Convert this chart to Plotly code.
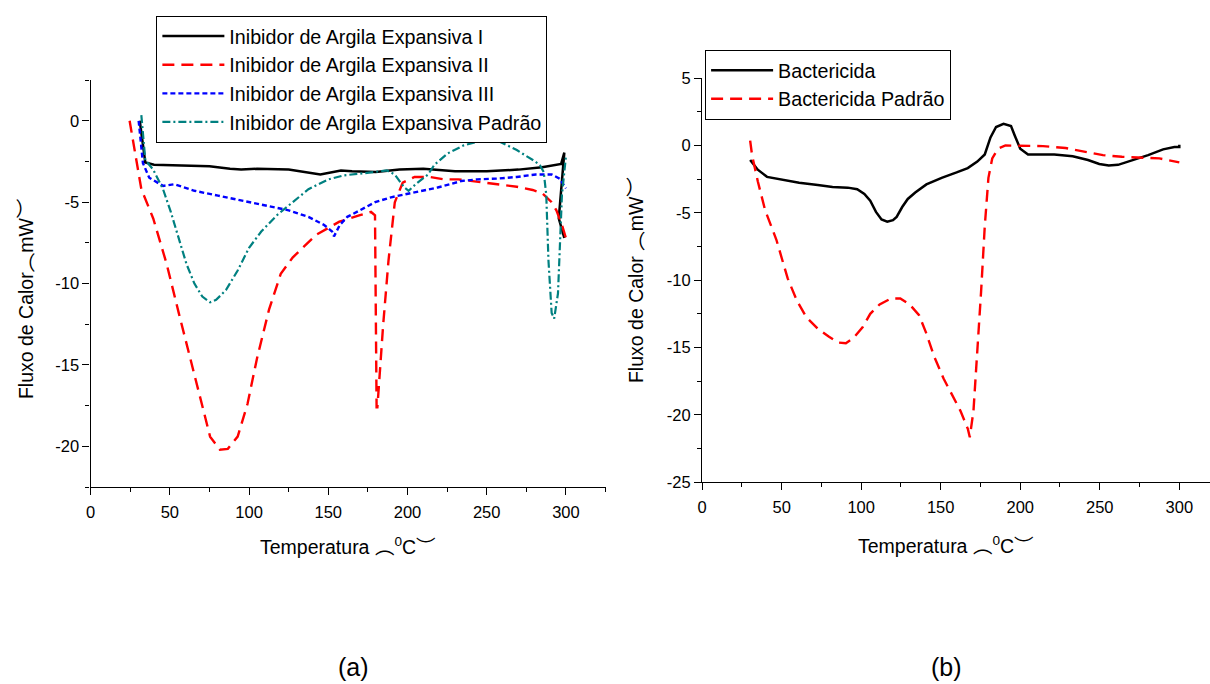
import plotly.graph_objects as go

# ---- (a) Inibidores de argila expansiva: temperatura (°C) x fluxo de calor (mW)
t_inib1 = [31, 34.5, 40, 55, 75, 88, 95, 105, 125, 145, 158, 165, 180, 195, 210, 230, 250, 270, 285, 297, 299, 295.5, 299]
f_inib1 = [0, -2.56, -2.7, -2.75, -2.8, -2.95, -3.0, -2.95, -3.0, -3.3, -3.05, -3.1, -3.15, -3.0, -2.95, -3.1, -3.1, -3.0, -2.85, -2.65, -1.95, -6.0, -7.2]

t_inib2 = [24.6, 32, 39.5, 48, 55.6, 63, 70.5, 75.4, 81.6, 86.6, 92.8, 99, 105, 112.6, 120, 127.5, 142.4, 157, 170, 177, 179.5, 179.8, 180.5, 181,
           184.6, 188, 192, 197, 204.5, 214, 223, 232, 244, 256.6, 269, 279, 285, 291, 294, 297.5, 300]
f_inib2 = [0, -4.2, -6.0, -8.8, -11.8, -14.6, -17.6, -19.4, -20.2, -20.15, -19.4, -17.4, -14.6, -11.6, -9.4, -8.4, -7.0, -6.2, -5.8, -5.6, -5.8, -12.0, -17.6, -17.6,
           -12.6, -8.6, -5.0, -3.8, -3.45, -3.45, -3.6, -3.6, -3.75, -3.9, -4.05, -4.25, -4.45, -5.0, -5.5, -6.4, -7.2]

t_inib3 = [30.3, 33, 37, 45.7, 53, 65.5, 80.4, 95.3, 110, 125, 137.5, 147.4, 152.4, 153.6, 157.3, 162, 170, 179.6, 189.6, 199.5, 209.4, 219,
           226.8, 234, 244, 256.6, 269, 281, 291, 296, 300]
f_inib3 = [0, -2.6, -3.5, -4.0, -3.9, -4.3, -4.6, -4.9, -5.2, -5.5, -5.9, -6.4, -6.8, -7.1, -6.4, -5.9, -5.5, -5.0, -4.7, -4.5, -4.3, -4.1,
           -3.9, -3.7, -3.6, -3.55, -3.45, -3.3, -3.3, -3.55, -4.15]

t_padrao = [32, 34.5, 39.5, 45.7, 50.6, 55.6, 60.5, 65.5, 70.5, 75.4, 79.2, 85.4, 92.8, 100, 107.7, 117.6, 127.5, 137.5, 150, 160, 170, 179.6,
            187, 192, 198, 200.7, 205.7, 213, 217, 225.5, 235.7, 248, 256.6, 269, 280.6, 283.8, 286, 287.6, 289, 291, 292.6, 295, 296.3, 297.5, 300]
f_padrao = [0.35, -2.4, -3.0, -4.2, -5.6, -7.2, -8.8, -10.0, -10.8, -11.15, -11.0, -10.4, -9.2, -7.8, -6.8, -5.8, -5.0, -4.2, -3.6, -3.35, -3.25, -3.15,
            -3.05, -3.3, -4.1, -4.3, -3.85, -3.3, -2.7, -2.0, -1.5, -1.2, -1.2, -1.8, -2.5, -2.76, -3.15, -4.55, -8.6, -11.8, -12.15, -10.6, -7.6, -4.55, -2.2]

# ---- (b) Bactericidas
t_bact = [30.2, 35, 40.8, 49, 61, 72.7, 82, 91.6, 97.5, 102, 105.7, 109.3, 112.8, 116.4, 120, 122.3, 125.8, 129.3, 134, 141, 150.6, 160, 167,
          173, 177.7, 181.3, 184.8, 189.5, 194.2, 196.6, 200, 204.9, 212, 221.4, 233, 242.6, 249.7, 255.6, 261.5, 271, 280.4, 289.8, 296.9, 300, 300]
f_bact = [-1.08, -1.8, -2.33, -2.53, -2.77, -2.94, -3.08, -3.13, -3.25, -3.6, -4.1, -4.93, -5.49, -5.66, -5.54, -5.3, -4.57, -3.97, -3.49, -2.89, -2.4, -2.0, -1.68,
          -1.2, -0.67, 0.6, 1.37, 1.61, 1.44, 0.72, -0.24, -0.67, -0.65, -0.67, -0.8, -1.08, -1.37, -1.49, -1.44, -1.08, -0.72, -0.29, -0.12, -0.12, 0.05]

t_bact_p = [30.2, 31.4, 35, 39.6, 46.7, 53.8, 59.7, 65.6, 72.7, 79.8, 85.7, 90.4, 95.1, 101, 105.7, 111.6, 118.7, 124.6, 130.5, 136.4, 141, 145.8,
            151.8, 157.7, 162.4, 167.1, 168.3, 170.6, 173, 175.4, 177.7, 180, 182.4, 186, 190.7, 200, 214.3, 228.5, 240.3, 252, 263.9, 275.7, 287.5, 300]
f_bact_p = [0.36, -0.72, -2.65, -4.8, -7.0, -9.87, -11.55, -12.76, -13.6, -14.2, -14.63, -14.68, -14.3, -13.48, -12.5, -11.8, -11.36, -11.36, -11.8, -12.6, -13.96, -15.64,
            -17.3, -18.65, -19.7, -21.06, -21.66, -19.7, -15.64, -10.83, -6.0, -2.4, -0.96, -0.24, 0, 0, -0.05, -0.19, -0.48, -0.72, -0.84, -0.91, -0.96, -1.25]

# ---- ticks and texts
xticks = [0, 50, 100, 150, 200, 250, 300]
yticks_a = [0, -5, -10, -15, -20]
yticks_b = [5, 0, -5, -10, -15, -20, -25]
ylabels_a = ["0", "-5", "-10", "-15", "-20"]
ylabels_b = ["5", "0", "-5", "-10", "-15", "-20", "-25"]
names_a = ["Inibidor de Argila Expansiva I", "Inibidor de Argila Expansiva II",
           "Inibidor de Argila Expansiva III", "Inibidor de Argila Expansiva Padrão"]
names_b = ["Bactericida", "Bactericida Padrão"]
xtitle = "Temperatura ︵<sup>0</sup>C︶"
ytitle_a = "Fluxo de Calor︵mW︶"
ytitle_b = "Fluxo de Calor ︵mW︶"

FONT = "Liberation Sans, Arial, Helvetica, Noto Sans CJK SC, sans-serif"
W, H = 1210, 684

fig = go.Figure()

styles_a = [
    dict(color="#000000", width=2.5, dash="solid"),
    dict(color="#ff0000", width=2.4, dash="12px,7px"),
    dict(color="#0000ff", width=2.4, dash="5px,3px"),
    dict(color="#008080", width=2.2, dash="8px,3px,2px,3px"),
]
for i, (tx, fy) in enumerate([(t_inib1, f_inib1), (t_inib2, f_inib2), (t_inib3, f_inib3), (t_padrao, f_padrao)]):
    fig.add_trace(go.Scatter(x=tx, y=fy, mode="lines", name=names_a[i], line=styles_a[i],
                             xaxis="x", yaxis="y", legend="legend", legendgroup=f"a{i}"))

styles_b = [
    dict(color="#000000", width=2.5, dash="solid"),
    dict(color="#ff0000", width=2.4, dash="12px,7px"),
]
for i, (tx, fy) in enumerate([(t_bact, f_bact), (t_bact_p, f_bact_p)]):
    fig.add_trace(go.Scatter(x=tx, y=fy, mode="lines", name=names_b[i], line=styles_b[i],
                             xaxis="x2", yaxis="y2", legend="legend2", legendgroup=f"b{i}"))

def px_x(p):
    return p / W

def px_y(p):
    return 1 - p / H

axis_common = dict(showgrid=False, zeroline=False, showline=True, linecolor="black", linewidth=1.3,
                   ticks="outside", ticklen=7, tickwidth=1.3, tickcolor="black",
                   tickfont=dict(family=FONT, size=16.5, color="black"), mirror=False)
minor_x = dict(dtick=25, tick0=0, ticklen=4, ticks="outside", tickcolor="black", tickwidth=1.3)
minor_y = dict(dtick=2.5, tick0=0, ticklen=4, ticks="outside", tickcolor="black", tickwidth=1.3)
legend_common = dict(xanchor="left", yanchor="top", bordercolor="black", borderwidth=1, bgcolor="white",
                     font=dict(family=FONT, size=19.7, color="black"), tracegroupgap=0, itemwidth=62)

fig.update_layout(
    width=W, height=H,
    paper_bgcolor="white", plot_bgcolor="white",
    margin=dict(l=0, r=0, t=0, b=0),
    font=dict(family=FONT, color="black"),
    xaxis=dict(domain=[px_x(86), px_x(603)], range=[0, 325], anchor="y",
               tickvals=xticks, minor=minor_x, ticklabelstandoff=3, **axis_common),
    yaxis=dict(domain=[px_y(491), px_y(73)], range=[-22.5, 2.5], anchor="x",
               tickvals=yticks_a, ticktext=ylabels_a, minor=minor_y, **axis_common),
    xaxis2=dict(domain=[px_x(700), 1.0], range=[0, 319.3], anchor="y2",
                tickvals=xticks, minor=minor_x, ticklabelstandoff=3, **axis_common),
    yaxis2=dict(domain=[px_y(486), px_y(71)], range=[-25, 5], anchor="x2",
                tickvals=yticks_b, ticktext=ylabels_b, minor=minor_y, **axis_common),
    legend=dict(x=px_x(152), y=px_y(7), **legend_common),
    legend2=dict(x=px_x(703), y=px_y(42), **legend_common),
    showlegend=True,
)

annots = [
    dict(text=xtitle, x=px_x(344), y=px_y(552), size=19.5),
    dict(text=xtitle, x=px_x(945), y=px_y(550), size=19.5),
    dict(text=ytitle_a, x=px_x(21), y=px_y(297), textangle=-90, size=19.5),
    dict(text=ytitle_b, x=px_x(633), y=px_y(278), textangle=-90, size=19.5),
    dict(text="(a)", x=px_x(350), y=px_y(676), size=25),
    dict(text="(b)", x=px_x(945), y=px_y(676), size=25),
]
for a in annots:
    size = a.pop("size")
    fig.add_annotation(xref="paper", yref="paper", showarrow=False, xanchor="center", yanchor="middle",
                       font=dict(family=FONT, color="black", size=size), **a)

fig.write_html("out.html")
